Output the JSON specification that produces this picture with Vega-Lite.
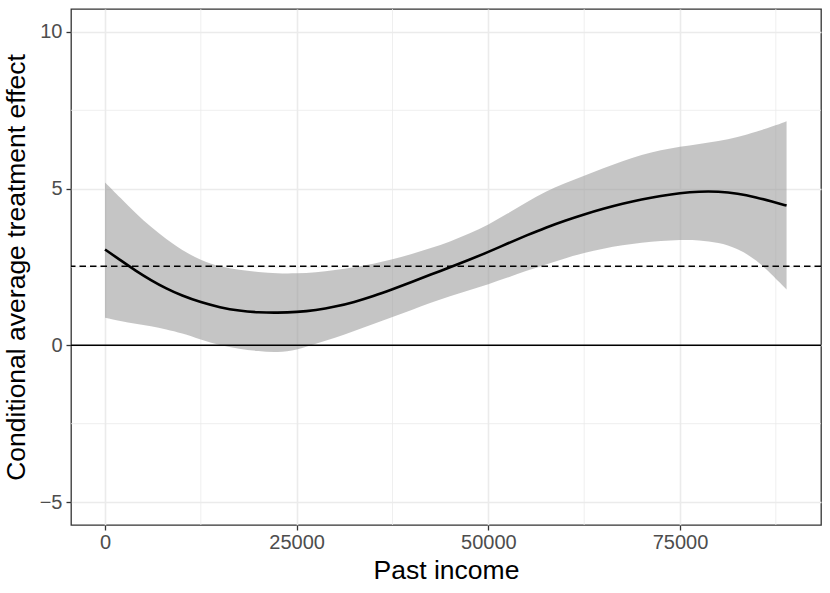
{
  "$schema": "https://vega.github.io/schema/vega-lite/v6.json",
  "width": 750,
  "height": 516,
  "autosize": {"type": "none"},
  "padding": {"left": 71, "top": 9, "right": 9, "bottom": 68},
  "background": "white",
  "config": {
    "view": {"stroke": "#333333", "strokeWidth": 1.3},
    "font": "Liberation Sans",
    "axis": {
      "domain": false,
      "grid": true,
      "gridColor": "#EBEBEB",
      "gridWidth": 1.6,
      "tickColor": "#333333",
      "tickWidth": 1.3,
      "tickSize": 5,
      "labelFont": "Liberation Sans",
      "labelFontSize": 20,
      "labelColor": "#4D4D4D",
      "titleFont": "Liberation Sans",
      "titleFontSize": 26.5,
      "titleFontWeight": "normal",
      "titleColor": "#000000"
    }
  },
  "datasets": {
    "fit": [
      {"income": 0, "fit": 3.06, "lo": 0.88, "hi": 5.20},
      {"income": 2000, "fit": 2.72, "lo": 0.77, "hi": 4.71},
      {"income": 4000, "fit": 2.38, "lo": 0.69, "hi": 4.22},
      {"income": 6000, "fit": 2.08, "lo": 0.61, "hi": 3.77},
      {"income": 8000, "fit": 1.81, "lo": 0.51, "hi": 3.39},
      {"income": 10000, "fit": 1.59, "lo": 0.39, "hi": 3.04},
      {"income": 12500, "fit": 1.37, "lo": 0.18, "hi": 2.71},
      {"income": 15000, "fit": 1.21, "lo": 0.00, "hi": 2.51},
      {"income": 17500, "fit": 1.10, "lo": -0.11, "hi": 2.40},
      {"income": 20000, "fit": 1.05, "lo": -0.19, "hi": 2.34},
      {"income": 22500, "fit": 1.04, "lo": -0.23, "hi": 2.29},
      {"income": 25000, "fit": 1.06, "lo": -0.15, "hi": 2.29},
      {"income": 27500, "fit": 1.12, "lo": 0.05, "hi": 2.33},
      {"income": 30000, "fit": 1.23, "lo": 0.24, "hi": 2.40},
      {"income": 32500, "fit": 1.38, "lo": 0.46, "hi": 2.49},
      {"income": 35000, "fit": 1.57, "lo": 0.68, "hi": 2.60},
      {"income": 37500, "fit": 1.79, "lo": 0.91, "hi": 2.74},
      {"income": 40000, "fit": 2.02, "lo": 1.13, "hi": 2.91},
      {"income": 42500, "fit": 2.26, "lo": 1.36, "hi": 3.10},
      {"income": 45000, "fit": 2.49, "lo": 1.57, "hi": 3.31},
      {"income": 47500, "fit": 2.73, "lo": 1.76, "hi": 3.56},
      {"income": 50000, "fit": 2.98, "lo": 1.95, "hi": 3.85},
      {"income": 52500, "fit": 3.25, "lo": 2.16, "hi": 4.20},
      {"income": 55000, "fit": 3.51, "lo": 2.38, "hi": 4.57},
      {"income": 57500, "fit": 3.76, "lo": 2.58, "hi": 4.91},
      {"income": 60000, "fit": 3.98, "lo": 2.78, "hi": 5.18},
      {"income": 62500, "fit": 4.18, "lo": 2.95, "hi": 5.41},
      {"income": 65000, "fit": 4.36, "lo": 3.09, "hi": 5.65},
      {"income": 67500, "fit": 4.52, "lo": 3.20, "hi": 5.88},
      {"income": 70000, "fit": 4.66, "lo": 3.28, "hi": 6.08},
      {"income": 72500, "fit": 4.77, "lo": 3.33, "hi": 6.23},
      {"income": 75000, "fit": 4.86, "lo": 3.37, "hi": 6.34},
      {"income": 77500, "fit": 4.91, "lo": 3.36, "hi": 6.43},
      {"income": 80000, "fit": 4.91, "lo": 3.28, "hi": 6.51},
      {"income": 82500, "fit": 4.85, "lo": 3.10, "hi": 6.64},
      {"income": 85000, "fit": 4.72, "lo": 2.72, "hi": 6.82},
      {"income": 87000, "fit": 4.59, "lo": 2.25, "hi": 6.98},
      {"income": 88900, "fit": 4.46, "lo": 1.78, "hi": 7.15}
    ]
  },
  "encoding": {
    "x": {"type": "quantitative",
          "scale": {"domain": [-4435, 93391], "nice": false, "zero": false},
          "axis": {"values": [0, 25000, 50000, 75000], "title": "Past income", "format": "d", "labelPadding": 2, "titlePadding": 5}},
    "y": {"type": "quantitative",
          "scale": {"domain": [-5.733, 10.733], "nice": false, "zero": false},
          "axis": {"values": [-5, 0, 5, 10], "title": "Conditional average treatment effect", "labelPadding": 4, "titlePadding": 9, "labelExpr": "replace(datum.label, '-', '\u2212')"}}
  },
  "layer": [
    {
      "data": {"values": [{"v": 12500}, {"v": 37500}, {"v": 62500}, {"v": 87500}]},
      "mark": {"type": "rule", "color": "#EBEBEB", "strokeWidth": 0.8},
      "encoding": {
        "x": {"field": "v", "type": "quantitative"},
        "y": null
      }
    },
    {
      "data": {"values": [{"v": -2.5}, {"v": 2.5}, {"v": 7.5}]},
      "mark": {"type": "rule", "color": "#EBEBEB", "strokeWidth": 0.8},
      "encoding": {
        "y": {"field": "v", "type": "quantitative"},
        "x": null
      }
    },
    {
      "data": {"name": "fit"},
      "mark": {"type": "area", "interpolate": "basis", "color": "#999999", "opacity": 0.57},
      "encoding": {
        "x": {"field": "income", "type": "quantitative"},
        "y": {"field": "lo", "type": "quantitative"},
        "y2": {"field": "hi"}
      }
    },
    {
      "data": {"name": "fit"},
      "mark": {"type": "line", "interpolate": "basis", "color": "#000000", "strokeWidth": 2.6},
      "encoding": {
        "x": {"field": "income", "type": "quantitative"},
        "y": {"field": "fit", "type": "quantitative"}
      }
    },
    {
      "data": {"values": [{"v": 0}]},
      "mark": {"type": "rule", "color": "#000000", "strokeWidth": 1.5},
      "encoding": {
        "y": {"field": "v", "type": "quantitative"},
        "x": null
      }
    },
    {
      "data": {"values": [{"v": 2.525}]},
      "mark": {"type": "rule", "color": "#000000", "strokeWidth": 1.5, "strokeDash": [6.5, 4]},
      "encoding": {
        "y": {"field": "v", "type": "quantitative"},
        "x": null
      }
    }
  ]
}
